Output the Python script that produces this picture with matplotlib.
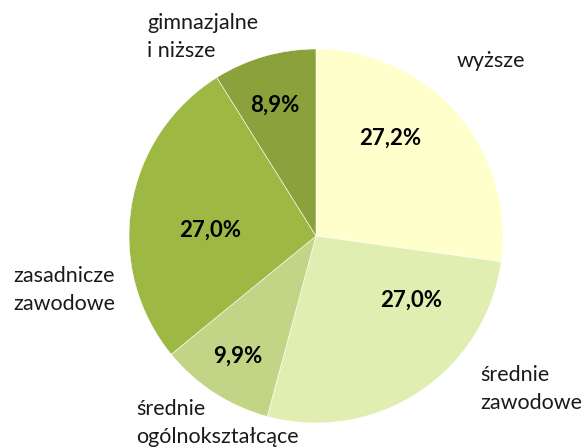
import matplotlib
matplotlib.use("Agg")
import matplotlib.pyplot as plt

categories = ["wyższe", "średnie\nzawodowe", "średnie\nogólnokształcące",
              "zasadnicze\nzawodowe", "gimnazjalne\ni niższe"]
values = [27.2, 27.0, 9.9, 27.0, 8.9]
value_labels = ["27,2%", "27,0%", "9,9%", "27,0%", "8,9%"]
colors = ["#FFFFCC", "#E0EFB1", "#C2D586", "#9DB944", "#8BA23C"]

W, H = 588, 448
cx, cy, R = 316, 236, 187

fig = plt.figure(figsize=(W / 100, H / 100), dpi=100)
ax = fig.add_axes([(cx - R) / W, (H - cy - R) / H, 2 * R / W, 2 * R / H])
ax.pie(values, colors=colors, startangle=90, counterclock=False,
       wedgeprops=dict(edgecolor="white", linewidth=0.4))
ax.set_xlim(-1, 1)
ax.set_ylim(-1, 1)
ax.set_aspect("equal")
ax.axis("off")

def px(x, y):
    return (x - cx) / R, (cy - y) / R

font = "Lato"
# category labels (pixel positions of left edge / vertical center)
cat_pos = [(457, 61), (480, 389), (136, 423), (13, 290), (147, 37)]
for lab, (x, y) in zip(categories, cat_pos):
    tx, ty = px(x, y)
    ax.text(tx, ty, lab, ha="left", va="center", fontsize=15.5,
            family=font, linespacing=1.5, color="#1a1a1a", clip_on=False)

# value labels (centers)
val_pos = [(390, 138), (411, 300), (238, 356), (210, 230), (275, 105)]
for lab, (x, y) in zip(value_labels, val_pos):
    tx, ty = px(x, y)
    ax.text(tx, ty, lab, ha="center", va="center", fontsize=16,
            family=font, fontweight="bold", color="black")

fig.savefig("out.png", dpi=100)
